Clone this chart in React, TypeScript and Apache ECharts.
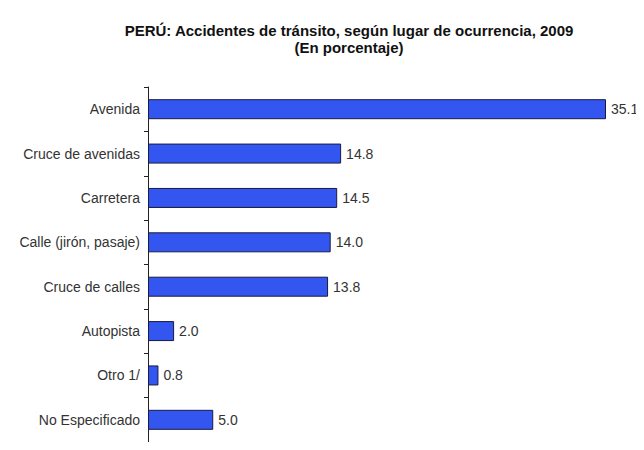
import React, { useEffect, useRef } from "react";
import * as echarts from "echarts";

const categories = [
  "Avenida",
  "Cruce de avenidas",
  "Carretera",
  "Calle (jirón, pasaje)",
  "Cruce de calles",
  "Autopista",
  "Otro 1/",
  "No Especificado",
];
const values = [35.1, 14.8, 14.5, 14.0, 13.8, 2.0, 0.8, 5.0];
const titleLines = [
  "PERÚ: Accidentes de tránsito, según lugar de ocurrencia, 2009",
  "(En porcentaje)",
];

export default function App() {
  const ref = useRef<HTMLDivElement>(null);
  useEffect(() => {
    if (!ref.current) return;
    const chart = echarts.init(ref.current, null, { renderer: "svg" });
    chart.setOption({
      animation: false,
      backgroundColor: "#ffffff",
      title: {
        text: titleLines.join("\n"),
        left: 336,
        top: 9,
        textAlign: "center",
        textStyle: {
          fontFamily: "Liberation Sans, Arial, sans-serif",
          fontSize: 15,
          fontWeight: "bold",
          color: "#111",
          lineHeight: 17,
        },
      },
      grid: { left: 140, right: 38, top: 79, bottom: -14, containLabel: false },
      xAxis: {
        type: "value",
        min: 0,
        max: 35.1,
        show: false,
      },
      yAxis: {
        type: "category",
        data: categories,
        inverse: true,
        axisLine: { show: true, lineStyle: { color: "#222", width: 1 } },
        axisTick: { show: true, length: 4, alignWithLabel: false, lineStyle: { color: "#222" } },
        axisLabel: {
          fontFamily: "Liberation Sans, Arial, sans-serif",
          fontSize: 14,
          color: "#333",
          margin: 8,
        },
        splitLine: { show: false },
      },
      series: [
        {
          type: "bar",
          data: values,
          barWidth: 20,
          itemStyle: { color: "#3355f0", borderColor: "#1a1a40", borderWidth: 1 },
          label: {
            show: true,
            position: "right",
            distance: 5,
            formatter: (p: any) => Number(p.value).toFixed(1),
            fontFamily: "Liberation Sans, Arial, sans-serif",
            fontSize: 14,
            color: "#333",
          },
        },
      ],
    });
    return () => chart.dispose();
  }, []);
  return <div ref={ref} style={{ width: 636, height: 434 }} />;
}
